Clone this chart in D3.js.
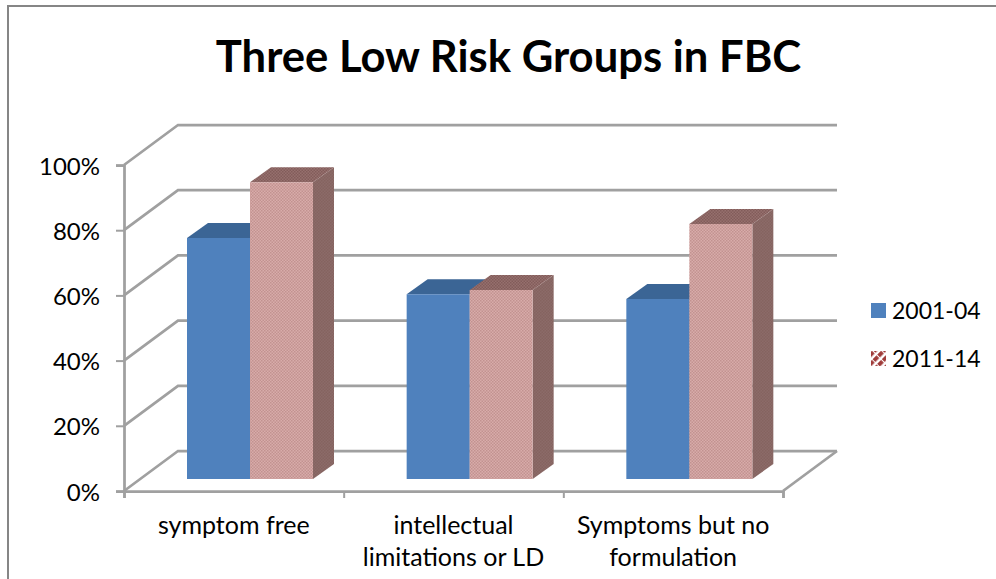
<!DOCTYPE html>
<html>
<head>
<meta charset="utf-8">
<script src="https://cdn.jsdelivr.net/npm/d3@7"></script>
<style>
  html, body { margin: 0; padding: 0; background: #fff; }
  svg { display: block; }
  text { font-family: Lato, "Open Sans", sans-serif; fill: #000; }
</style>
</head>
<body>
<div id="chart"></div>
<script>
const categories = ["symptom free", "intellectual limitations or LD", "Symptoms but no formulation"];
const seriesNames = ["2001-04", "2011-14"];
const series2001 = [73.9, 56.7, 55.2];
const series2011 = [91.0, 58.0, 78.2];
const tickValues = [0, 20, 40, 60, 80, 100];
const titleText = "Three Low Risk Groups in FBC";

const width = 996, height = 579;
const svg = d3.select("#chart").append("svg").attr("width", width).attr("height", height);
const defs = svg.append("defs");

// Fine woven fills for the second series: one per visible box face.
function weave(id, light, dark) {
  const p = defs.append("pattern").attr("id", id).attr("width", 3).attr("height", 3)
    .attr("patternUnits", "userSpaceOnUse");
  p.append("rect").attr("width", 3).attr("height", 3).attr("fill", light);
  p.append("rect").attr("width", 1.5).attr("height", 1.5).attr("fill", dark);
  p.append("rect").attr("x", 1.5).attr("y", 1.5).attr("width", 1.5).attr("height", 1.5).attr("fill", dark);
}
weave("wFront", "#d8acaa", "#c29290");
weave("wTop", "#96706e", "#825c5a");
weave("wSide", "#8c6b69", "#85635f");

// Diagonal hatch used by the legend swatch.
const hatch = defs.append("pattern").attr("id", "hatch").attr("width", 6.5).attr("height", 6.5)
  .attr("patternUnits", "userSpaceOnUse").attr("patternTransform", "rotate(-45)");
hatch.append("rect").attr("width", 6.5).attr("height", 6.5).attr("fill", "#fff");
hatch.append("rect").attr("width", 6.5).attr("height", 4).attr("fill", "#a03c3a");
hatch.append("rect").attr("x", 4.5).attr("width", 1).attr("height", 6.5).attr("fill", "#fff");

// Outer frame, open on the right and bottom.
svg.append("path").attr("d", d3.line()([[8, height], [8, 6], [width, 6]]))
  .attr("fill", "none").attr("stroke", "#868686").attr("stroke-width", 2);

// Front plane scales; the back wall is the same plane shifted by (depthX, depthY).
const depthX = 54, depthY = -40;
const y = d3.scaleLinear().domain([0, 100]).range([491, 165]);
const x = d3.scaleBand().domain(categories).range([124, 783]);
const gridColor = "#a0a0a0";

// Gridlines wrap from the left wall onto the back wall.
const wall = svg.append("g").attr("fill", "none").attr("stroke", gridColor).attr("stroke-width", 2.75);
const line = d3.line();
tickValues.forEach(v => {
  wall.append("path").attr("d", line([
    [x.range()[0], y(v)],
    [x.range()[0] + depthX, y(v) + depthY],
    [x.range()[1] + depthX, y(v) + depthY]
  ]));
});
// Right edge of the floor.
wall.append("path").attr("d", line([
  [x.range()[1], y(0)], [x.range()[1] + depthX, y(0) + depthY]
]));

// Axes on the front plane.
const yAxis = d3.axisLeft(y).tickValues(tickValues).tickFormat(d => d + "%").tickSize(8).tickPadding(16);
const gy = svg.append("g").attr("transform", `translate(${x.range()[0]},0)`).call(yAxis);
gy.selectAll("text").attr("font-size", 24).attr("dy", "0.38em").style("font-family", "Lato, sans-serif");

const edges = [0, 1, 2, 3].map(i => x.range()[0] + i * x.step());
const xTicks = d3.axisBottom(d3.scaleLinear().domain([x.range()[0], x.range()[1]]).range(x.range()))
  .tickValues(edges).tickFormat("").tickSize(7);
svg.append("g").attr("transform", `translate(0,${y(0)})`).call(xTicks);
svg.selectAll(".domain").attr("stroke", gridColor).attr("stroke-width", 2.75);
svg.selectAll(".tick line").attr("stroke", gridColor).attr("stroke-width", 2);

// Boxes stand slightly inside the floor and keep a fixed depth.
const floorX = 16, floorY = -12, boxDX = 21, boxDY = -15;
const inner = d3.scaleBand().domain(seriesNames).range([47, 173]);
const faces = [
  { name: seriesNames[0], values: series2001, front: "#4f81bd", top: "#3b6595", side: "#385d8a" },
  { name: seriesNames[1], values: series2011, front: "url(#wFront)", top: "url(#wTop)", side: "url(#wSide)" }
];
const bars = svg.append("g");
categories.forEach((c, i) => {
  faces.forEach(f => {
    const x0 = x(c) + floorX + inner(f.name);
    const x1 = x0 + inner.bandwidth();
    const yb = y(0) + floorY;
    const yt = y(f.values[i]) + floorY;
    const g = bars.append("g");
    const poly = pts => line(pts) + "Z";
    g.append("path").attr("fill", f.side).attr("d", poly([
      [x1, yb], [x1 + boxDX, yb + boxDY], [x1 + boxDX, yt + boxDY], [x1, yt]
    ]));
    g.append("path").attr("fill", f.top).attr("d", poly([
      [x0, yt], [x0 + boxDX, yt + boxDY], [x1 + boxDX, yt + boxDY], [x1, yt]
    ]));
    g.append("path").attr("fill", f.front).attr("d", poly([
      [x0, yb], [x0, yt], [x1, yt], [x1, yb]
    ]));
  });
});

// Category labels, wrapped to the band width.
const labels = svg.append("g").attr("text-anchor", "middle").attr("font-size", 25);
categories.forEach(c => {
  const t = labels.append("text").attr("x", x(c) + x.bandwidth() / 2).attr("y", 534);
  const words = c.split(" ");
  let row = [], lineNo = 0;
  let span = t.append("tspan").attr("x", t.attr("x")).attr("y", 534);
  words.forEach(w => {
    row.push(w);
    span.text(row.join(" "));
    if (span.node().getComputedTextLength() > 210 && row.length > 1) {
      row.pop();
      span.text(row.join(" "));
      row = [w];
      lineNo += 1;
      span = t.append("tspan").attr("x", t.attr("x")).attr("y", 534 + lineNo * 32).text(w);
    }
  });
});

// Legend.
const legend = svg.append("g");
seriesNames.forEach((n, i) => {
  const ly = 303 + i * 48;
  legend.append("rect").attr("x", 871).attr("y", ly).attr("width", 15).attr("height", 15)
    .attr("fill", i === 0 ? "#4f81bd" : "url(#hatch)");
  legend.append("text").attr("x", 892).attr("y", ly + 16).attr("font-size", 23).text(n);
});

// Title.
svg.append("text").attr("x", 508.5).attr("y", 72).attr("text-anchor", "middle")
  .attr("font-size", 43.6).attr("font-weight", 700).text(titleText);
</script>
</body>
</html>
